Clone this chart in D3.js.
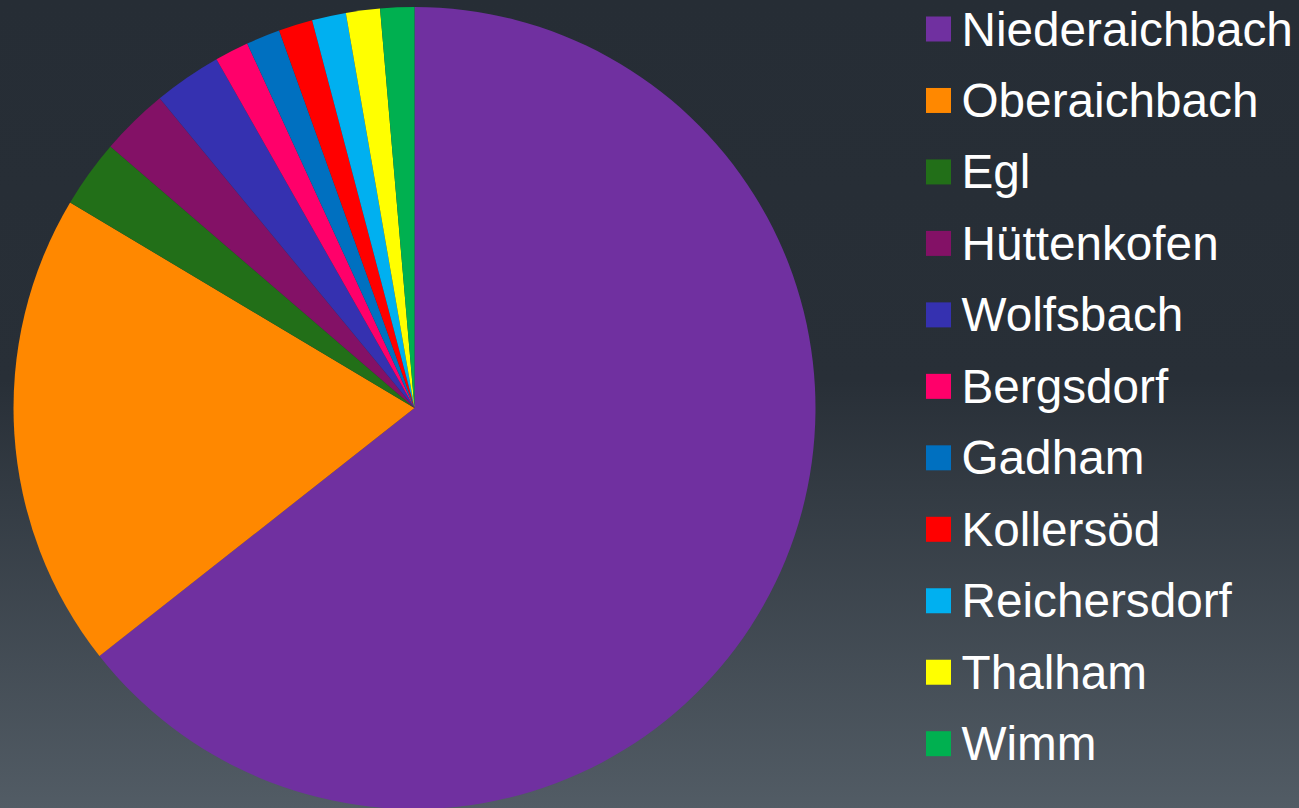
<!DOCTYPE html>
<html>
<head>
<meta charset="utf-8">
<script src="https://cdn.jsdelivr.net/npm/d3@7"></script>
<style>
  html, body { margin: 0; padding: 0; overflow: hidden; }
  svg { display: block; }
</style>
</head>
<body>
<div id="chart"></div>
<script>
(() => {
  // villages and their counts
  let places = ['Niederaichbach', 'Oberaichbach', 'Egl', 'Hüttenkofen', 'Wolfsbach',
                'Bergsdorf', 'Gadham', 'Kollersöd', 'Reichersdorf', 'Thalham', 'Wimm']
  let counts = [47, 14, 2, 2, 2, 1, 1, 1, 1, 1, 1]
  let colors = ['#7030a0', '#ff8800', '#226f18', '#831166', '#3531b0',
                '#ff006a', '#0070c0', '#ff0000', '#00b0f0', '#ffff00', '#00b050']

  let width = 1299
  let height = 808

  let cx = 414.5
  let cy = 408
  let radius = 401

  let dataset = places.map((name, i) => ({ name: name, value: counts[i] }))

  let svg = d3.select('#chart')
              .append('svg')
                .attr('width', width)
                .attr('height', height)

  let grad = svg.append('defs')
              .append('linearGradient')
                .attr('id', 'bg')
                .attr('x1', 0).attr('y1', 0)
                .attr('x2', 0).attr('y2', 1)
  grad.append('stop').attr('offset', '0%').attr('stop-color', '#262d35')
  grad.append('stop').attr('offset', '47%').attr('stop-color', '#282f37')
  grad.append('stop').attr('offset', '100%').attr('stop-color', '#525c65')

  svg.append('rect')
      .attr('width', width)
      .attr('height', height)
      .attr('fill', 'url(#bg)')

  let color = d3.scaleOrdinal()
                .domain(places)
                .range(colors)

  let pie = d3.pie()
              .sort(null)
              .value((d) => { return d.value })

  let arc = d3.arc()
              .innerRadius(0)
              .outerRadius(radius)

  svg.append('g')
      .attr('transform', `translate(${cx},${cy})`)
    .selectAll('path')
    .data(pie(dataset))
    .enter()
    .append('path')
      .attr('d', arc)
      .attr('fill', (d) => { return color(d.data.name) })

  let rowY = d3.scalePoint()
               .domain(places)
               .range([29, 743.7])

  let legend = svg.append('g')
                .selectAll('g')
                .data(places)
                .enter()
                .append('g')
                  .attr('transform', (d) => { return `translate(926,${rowY(d)})` })

  legend.append('rect')
      .attr('x', 0)
      .attr('y', -12.5)
      .attr('width', 25)
      .attr('height', 25)
      .attr('fill', (d) => { return color(d) })

  legend.append('text')
      .attr('x', 35.5)
      .attr('y', 16.5)
      .attr('fill', '#ffffff')
      .style('font-family', '"Liberation Sans", Arial, sans-serif')
      .style('font-size', '47.7px')
      .text((d) => { return d })
})()
</script>
</body>
</html>
